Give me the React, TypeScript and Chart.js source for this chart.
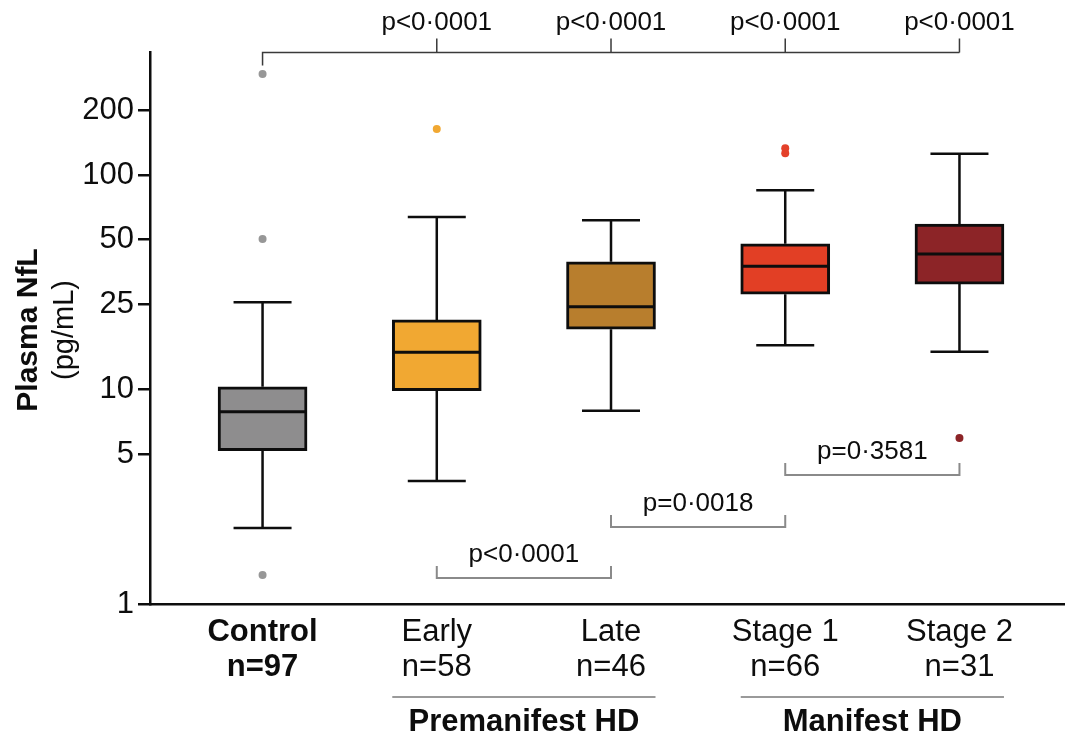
import React, { useEffect, useRef } from "react";
import { Chart, registerables } from "chart.js";

Chart.register(...registerables);

const FONT = '"Liberation Sans", Arial, Helvetica, sans-serif';

// Groups and sample sizes
const GROUPS = ["Control", "Early", "Late", "Stage 1", "Stage 2"];
const COUNTS = ["n=97", "n=58", "n=46", "n=66", "n=31"];
const POSITIONS = [0, 1, 2, 3, 4];

// Box-plot summaries of plasma NfL (pg/mL)
const LOWER_WHISKER = [2.26, 3.74, 7.96, 16.1, 15.0];
const Q1 = [5.19, 9.87, 19.1, 27.8, 31.0];
const MEDIAN = [7.88, 14.9, 24.3, 37.5, 42.8];
const Q3 = [10.3, 21.1, 39.4, 47.8, 59.1];
const UPPER_WHISKER = [25.5, 63.7, 61.5, 84.9, 125.7];
const OUTLIERS: number[][] = [[295.8, 50.3, 1.365], [163.9], [], [133.2, 126.3], [5.94]];

const BOX_COLORS = ["#8e8d8e", "#f1a832", "#b87e2d", "#e23f25", "#8c2427"];
const POINT_COLORS = ["#979797", "#f1a832", "#b87e2d", "#e4412a", "#8c2427"];

// Axis ranges and ticks
const Y_TICKS = [1, 5, 10, 25, 50, 100, 200];
const Y_MIN = 1;
const Y_MAX = 374.5;
const X_MIN = -0.646;
const X_MAX = 4.6;

// Comparisons against control (top bracket)
const CONTROL_COMPARISONS = [
  { to: 1, label: "p<0·0001" },
  { to: 2, label: "p<0·0001" },
  { to: 3, label: "p<0·0001" },
  { to: 4, label: "p<0·0001" },
];
const CONTROL_BRACKET_LEVEL = Y_MAX;

// Adjacent-stage comparisons (lower brackets)
const STAGE_COMPARISONS = [
  { from: 1, to: 2, label: "p<0·0001", level: 1.32 },
  { from: 2, to: 3, label: "p=0·0018", level: 2.29 },
  { from: 3, to: 4, label: "p=0·3581", level: 4.0 },
];

// Disease-phase groupings under the x axis
const PHASES = [
  { label: "Premanifest HD", from: 1, to: 2 },
  { label: "Manifest HD", from: 3, to: 4 },
];

const BOX_WIDTH = 89;
const CAP_HALF = 29;
const INK = "#0d0d0d";

const boxPlotPlugin = {
  id: "boxPlotParts",
  beforeDatasetsDraw(chart: any) {
    const { ctx, scales } = chart;
    const x = scales.x;
    const y = scales.y;
    ctx.save();
    ctx.strokeStyle = INK;
    ctx.lineWidth = 2.5;
    ctx.lineCap = "butt";
    POSITIONS.forEach((p, i) => {
      const cx = x.getPixelForValue(p);
      const yHi = y.getPixelForValue(UPPER_WHISKER[i]);
      const yQ3 = y.getPixelForValue(Q3[i]);
      const yQ1 = y.getPixelForValue(Q1[i]);
      const yLo = y.getPixelForValue(LOWER_WHISKER[i]);
      ctx.beginPath();
      ctx.moveTo(cx, yQ3);
      ctx.lineTo(cx, yHi);
      ctx.moveTo(cx - CAP_HALF, yHi);
      ctx.lineTo(cx + CAP_HALF, yHi);
      ctx.moveTo(cx, yQ1);
      ctx.lineTo(cx, yLo);
      ctx.moveTo(cx - CAP_HALF, yLo);
      ctx.lineTo(cx + CAP_HALF, yLo);
      ctx.stroke();
    });
    ctx.restore();
  },
  afterDatasetsDraw(chart: any) {
    const { ctx, scales } = chart;
    const x = scales.x;
    const y = scales.y;
    ctx.save();
    ctx.strokeStyle = INK;
    ctx.lineWidth = 3;
    POSITIONS.forEach((p, i) => {
      const cx = x.getPixelForValue(p);
      const ym = y.getPixelForValue(MEDIAN[i]);
      ctx.beginPath();
      ctx.moveTo(cx - BOX_WIDTH / 2 + 1, ym);
      ctx.lineTo(cx + BOX_WIDTH / 2 - 1, ym);
      ctx.stroke();
    });
    ctx.restore();
  },
  afterDraw(chart: any) {
    const { ctx, scales, chartArea } = chart;
    const x = scales.x;
    const y = scales.y;
    ctx.save();

    // Control vs each HD group
    const topY = Math.round(y.getPixelForValue(CONTROL_BRACKET_LEVEL)) + 0.5;
    const x0 = x.getPixelForValue(POSITIONS[0]);
    const xLast = x.getPixelForValue(POSITIONS[CONTROL_COMPARISONS[CONTROL_COMPARISONS.length - 1].to]);
    ctx.strokeStyle = "#3a3a3a";
    ctx.lineWidth = 1.5;
    ctx.beginPath();
    ctx.moveTo(x0, topY + 13);
    ctx.lineTo(x0, topY);
    ctx.lineTo(xLast, topY);
    CONTROL_COMPARISONS.forEach((c) => {
      const cx = x.getPixelForValue(POSITIONS[c.to]);
      ctx.moveTo(cx, topY);
      ctx.lineTo(cx, topY - 14);
    });
    ctx.stroke();
    ctx.fillStyle = INK;
    ctx.font = `26px ${FONT}`;
    ctx.textAlign = "center";
    ctx.textBaseline = "middle";
    CONTROL_COMPARISONS.forEach((c) => {
      const cx = x.getPixelForValue(POSITIONS[c.to]);
      ctx.fillText(c.label, cx, topY - 30);
    });

    // Adjacent stages
    STAGE_COMPARISONS.forEach((c) => {
      const xa = x.getPixelForValue(POSITIONS[c.from]);
      const xb = x.getPixelForValue(POSITIONS[c.to]);
      const ly = Math.round(y.getPixelForValue(c.level));
      ctx.strokeStyle = "#8a8a8a";
      ctx.lineWidth = 2;
      ctx.beginPath();
      ctx.moveTo(xa, ly - 12);
      ctx.lineTo(xa, ly);
      ctx.lineTo(xb, ly);
      ctx.lineTo(xb, ly - 12);
      ctx.stroke();
      ctx.fillStyle = INK;
      ctx.fillText(c.label, (xa + xb) / 2, ly - 23);
    });

    // Disease phase labels
    PHASES.forEach((g) => {
      const xa = x.getPixelForValue(POSITIONS[g.from]) - BOX_WIDTH / 2;
      const xb = x.getPixelForValue(POSITIONS[g.to]) + BOX_WIDTH / 2;
      const ly = chartArea.bottom + 93;
      ctx.strokeStyle = "#9a9a9a";
      ctx.lineWidth = 2;
      ctx.beginPath();
      ctx.moveTo(xa, ly);
      ctx.lineTo(xb, ly);
      ctx.stroke();
      ctx.fillStyle = INK;
      ctx.font = `bold 31px ${FONT}`;
      ctx.fillText(g.label, (xa + xb) / 2, chartArea.bottom + 118);
    });

    // Y axis title
    const midY = (chartArea.top + chartArea.bottom) / 2 + 2;
    ctx.textBaseline = "alphabetic";
    ctx.save();
    ctx.translate(37, midY);
    ctx.rotate(-Math.PI / 2);
    ctx.font = `bold 30px ${FONT}`;
    ctx.fillText("Plasma NfL", 0, 0);
    ctx.restore();
    ctx.save();
    ctx.translate(73, midY);
    ctx.rotate(-Math.PI / 2);
    ctx.font = `29px ${FONT}`;
    ctx.fillText("(pg/mL)", 0, 0);
    ctx.restore();

    ctx.restore();
  },
};

export default function App() {
  const canvasRef = useRef<HTMLCanvasElement | null>(null);

  useEffect(() => {
    document.body.style.margin = "0";
    const canvas = canvasRef.current;
    if (!canvas) return;

    const outlierPoints: { x: number; y: number }[] = [];
    const outlierColors: string[] = [];
    OUTLIERS.forEach((vals, i) => {
      vals.forEach((v) => {
        outlierPoints.push({ x: POSITIONS[i], y: v });
        outlierColors.push(POINT_COLORS[i]);
      });
    });

    const chart = new Chart(canvas, {
      type: "bar",
      data: {
        datasets: [
          {
            type: "bar",
            label: "IQR",
            data: POSITIONS.map((p, i) => ({ x: p, y: [Q1[i], Q3[i]] })) as any,
            backgroundColor: BOX_COLORS,
            borderColor: INK,
            borderWidth: 3,
            borderSkipped: false,
            barThickness: BOX_WIDTH,
          } as any,
          {
            type: "scatter",
            label: "Outliers",
            data: outlierPoints,
            pointBackgroundColor: outlierColors,
            pointBorderWidth: 0,
            pointRadius: 4,
            showLine: false,
          } as any,
        ],
      },
      options: {
        responsive: false,
        animation: false,
        layout: { padding: { top: 52, right: 0, bottom: 0, left: 0 } },
        plugins: {
          legend: { display: false },
          tooltip: { enabled: false },
          title: { display: false },
        },
        scales: {
          x: {
            type: "linear",
            min: X_MIN,
            max: X_MAX,
            offset: false,
            afterBuildTicks: (scale: any) => {
              scale.ticks = POSITIONS.map((v) => ({ value: v }));
            },
            afterFit: (scale: any) => {
              scale.height = 134;
            },
            grid: { display: false, drawTicks: false },
            border: { display: true, color: INK, width: 2.5 },
            ticks: {
              autoSkip: false,
              maxRotation: 0,
              minRotation: 0,
              padding: 10,
              color: INK,
              font: (c: any) => ({
                family: FONT,
                size: 31,
                weight: c.index === 0 ? "bold" : "normal",
                lineHeight: 1.16,
              }),
              callback: (_v: any, i: number) => [GROUPS[i], COUNTS[i]],
            },
          },
          y: {
            type: "logarithmic",
            min: Y_MIN,
            max: Y_MAX,
            afterBuildTicks: (scale: any) => {
              scale.ticks = Y_TICKS.map((v) => ({ value: v }));
            },
            afterFit: (scale: any) => {
              scale.width = 150;
            },
            grid: {
              drawOnChartArea: false,
              drawTicks: true,
              tickLength: 12,
              color: INK,
              lineWidth: 2.5,
            },
            border: { display: true, color: INK, width: 2.5 },
            ticks: {
              padding: 4,
              color: INK,
              font: { family: FONT, size: 31 },
              callback: (v: any) => String(v),
            },
          },
        },
      },
      plugins: [boxPlotPlugin],
    });

    return () => chart.destroy();
  }, []);

  return (
    <div style={{ width: 1068, height: 738 }}>
      <canvas ref={canvasRef} width={1068} height={738} style={{ display: "block" }} />
    </div>
  );
}
